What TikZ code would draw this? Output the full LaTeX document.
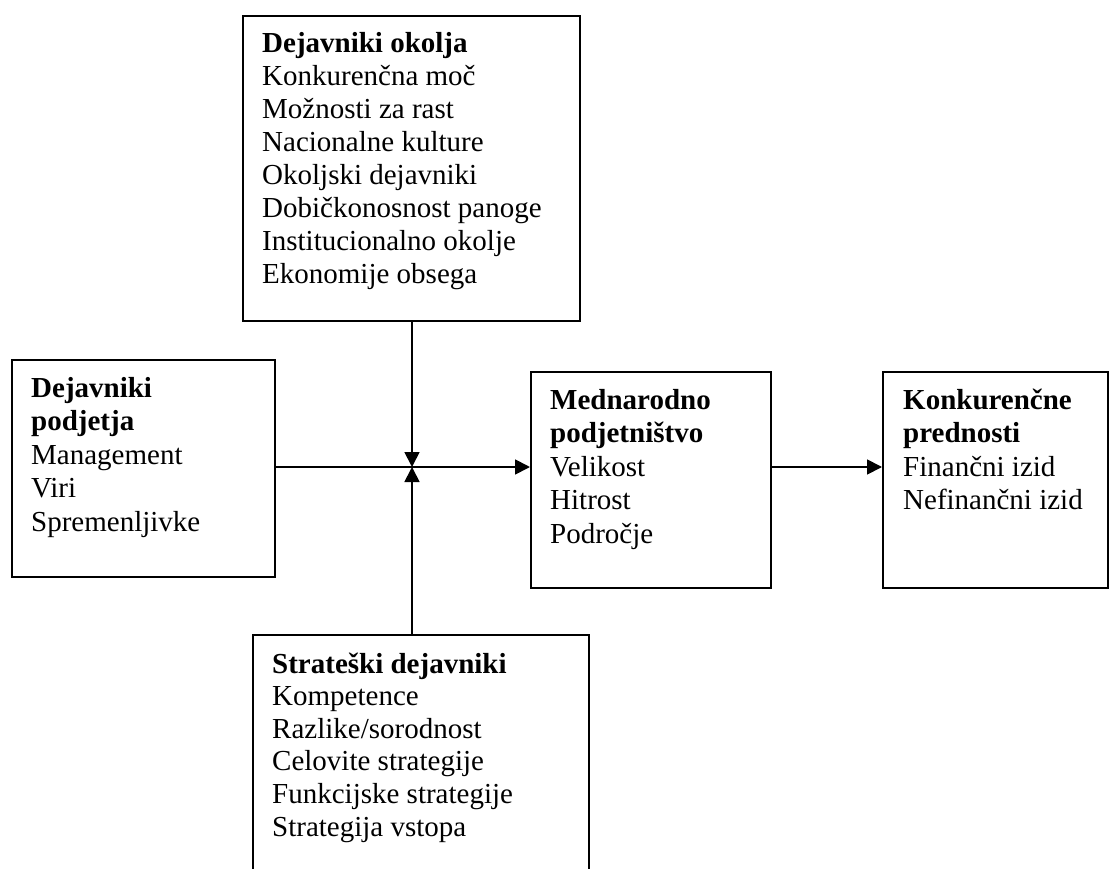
\documentclass[tikz,border=0pt]{standalone}
\usepackage{fontspec}
\setmainfont{Liberation Serif}
\usetikzlibrary{arrows.meta}
\begin{document}
\begin{tikzpicture}[x=1pt,y=-1pt,
  box/.style={draw, line width=1.8pt, inner sep=0pt, anchor=north west},
  txt/.style={anchor=base west, inner sep=0pt, font=\fontsize{29pt}{33pt}\selectfont},
  conn/.style={line width=1.8pt, -{Triangle[length=15pt,width=15pt]}},
  plain/.style={line width=1.8pt}]
\useasboundingbox (0,0) rectangle (1109,869);
\clip (0,0) rectangle (1109,869);
% boxes
\node[box, minimum width=337pt, minimum height=305pt] (env) at (242,15) {};
\node[box, minimum width=263pt, minimum height=217pt] (firm) at (11,359) {};
\node[box, minimum width=240pt, minimum height=216pt] (intl) at (530,371) {};
\node[box, minimum width=225pt, minimum height=216pt] (adv) at (882,371) {};
\node[box, minimum width=336pt, minimum height=270pt] (strat) at (252,634) {};
% texts
\node[txt] (envt) at (262,53) {\parbox[t]{320pt}{\baselineskip=33pt
  \textbf{Dejavniki okolja}\\
  Konkurenčna moč\\
  Možnosti za rast\\
  Nacionalne kulture\\
  Okoljski dejavniki\\
  Dobičkonosnost panoge\\
  Institucionalno okolje\\
  Ekonomije obsega}};
\node[txt] (firmt) at (31,397) {\parbox[t]{240pt}{\baselineskip=33.5pt
  \textbf{Dejavniki}\\
  \textbf{podjetja}\\
  Management\\
  Viri\\
  Spremenljivke}};
\node[txt] (intlt) at (550,409) {\parbox[t]{215pt}{\baselineskip=33.5pt
  \textbf{Mednarodno}\\
  \textbf{podjetništvo}\\
  Velikost\\
  Hitrost\\
  Področje}};
\node[txt] (advt) at (903,409) {\parbox[t]{200pt}{\baselineskip=33.5pt
  \textbf{Konkurenčne}\\
  \textbf{prednosti}\\
  Finančni izid\\
  Nefinančni izid}};
\node[txt] (stratt) at (272,673) {\parbox[t]{310pt}{\baselineskip=32.6pt
  \textbf{Strateški dejavniki}\\
  Kompetence\\
  Razlike/sorodnost\\
  Celovite strategije\\
  Funkcijske strategije\\
  Strategija vstopa}};
% connectors
\coordinate (j) at (412,467);
\draw[plain] (firm.east |- j) -- (j);
\draw[conn] (j) -- (intl.west |- j);
\draw[conn] (intl.east |- j) -- (adv.west |- j);
\draw[conn] (env.south -| j) -- (j);
\draw[conn] (strat.north -| j) -- (j);
\end{tikzpicture}
\end{document}
